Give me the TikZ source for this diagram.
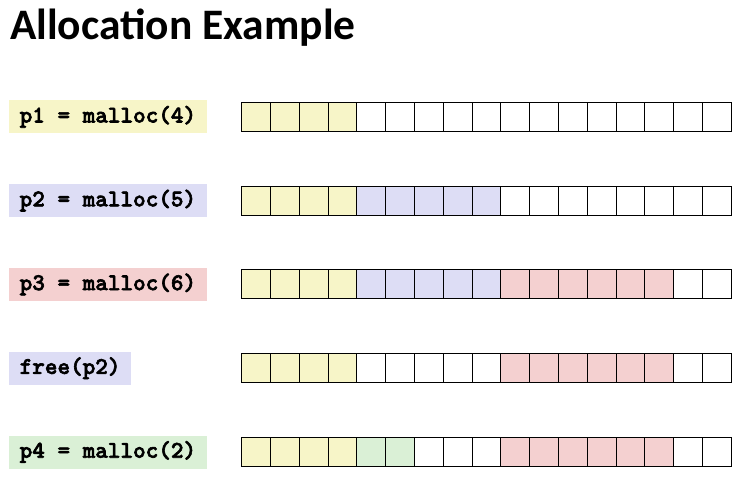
\documentclass[tikz,border=0pt]{standalone}
\usepackage{fontspec}
\newfontfamily\titlefont{Carlito}
\newfontfamily\codefont{lmmonolt10-bold.otf}[FakeBold=2.5]
\usepackage{tikz}

\definecolor{cA}{RGB}{247,245,200}
\definecolor{cB}{RGB}{221,221,245}
\definecolor{cC}{RGB}{244,208,208}
\definecolor{cD}{RGB}{218,240,214}
\definecolor{cN}{RGB}{255,255,255}

\begin{document}
\begin{tikzpicture}[
        x=1pt, y=1pt,
        cell/.style={draw, line width=1pt, minimum width=28.8pt, minimum height=29pt, inner sep=0pt},
        lbl/.style={anchor=west, minimum height=33pt, inner xsep=10.5pt, inner ysep=0pt,
                    font=\codefont\fontsize{24}{28}\selectfont}
        ]
        \useasboundingbox (0,0) rectangle (740,-493);
        \node[anchor=base west, inner sep=0pt, font=\titlefont\bfseries\fontsize{43.5}{50}\selectfont] (title) at (10,-39) {Allocation Example};

        % labels
        \node[lbl, fill=cA] (l1) at (9,-116.8) {p1 = malloc(4)};
        \node[lbl, fill=cB] (l2) at (9,-200.6) {p2 = malloc(5)};
        \node[lbl, fill=cC] (l3) at (9,-284.4) {p3 = malloc(6)};
        \node[lbl, fill=cB] (l4) at (9,-368.2) {free(p2)};
        \node[lbl, fill=cD] (l5) at (9,-452.0) {p4 = malloc(2)};

        % memory rows
        \foreach \r/\y/\cl in {
            1/116.8/{A,A,A,A,N,N,N,N,N,N,N,N,N,N,N,N,N},
            2/200.6/{A,A,A,A,B,B,B,B,B,N,N,N,N,N,N,N,N},
            3/284.4/{A,A,A,A,B,B,B,B,B,C,C,C,C,C,C,N,N},
            4/368.2/{A,A,A,A,N,N,N,N,N,C,C,C,C,C,C,N,N},
            5/452.0/{A,A,A,A,D,D,N,N,N,C,C,C,C,C,C,N,N}}
            \foreach \f [count=\i] in \cl
                \node[cell, fill=c\f] (r\r c\i) at ({241.7+(\i-0.5)*28.8}, -\y) {};
\end{tikzpicture}
\end{document}
